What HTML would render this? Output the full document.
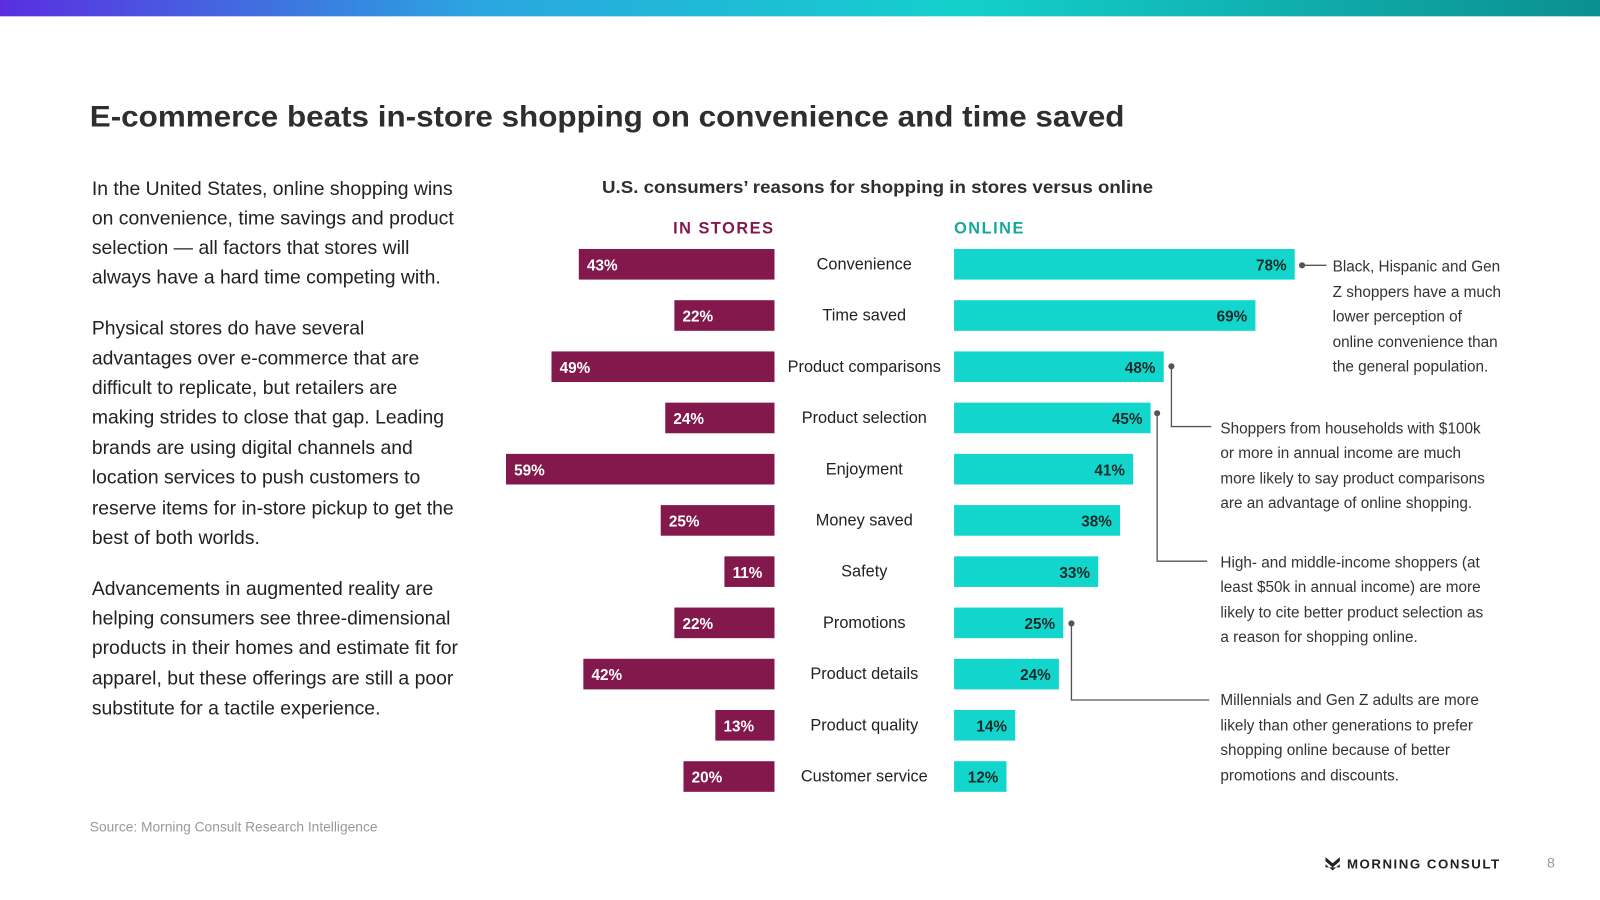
<!DOCTYPE html>
<html><head><meta charset="utf-8"><style>
html,body{margin:0;padding:0;background:#fff;}
svg{display:block;font-family:"Liberation Sans",sans-serif;}
</style></head><body>
<svg id="chart" width="1600" height="900" viewBox="0 0 1568 882" xmlns="http://www.w3.org/2000/svg">
<defs><linearGradient id="tg" x1="0" x2="1" y1="0" y2="0"><stop offset="0" stop-color="#5a2ee0"/><stop offset="0.3" stop-color="#2aa6e0"/><stop offset="0.6" stop-color="#14d0cc"/><stop offset="1" stop-color="#0b8f90"/></linearGradient></defs>
<rect x="0" y="0" width="1568" height="16" fill="url(#tg)"/>
<text x="88" y="124" font-size="29" font-weight="bold" fill="#2e2e2e" textLength="1014" lengthAdjust="spacingAndGlyphs">E-commerce beats in-store shopping on convenience and time saved</text>
<g font-size="19" fill="#222">
<text x="90" y="191">In the United States, online shopping wins</text>
<text x="90" y="220">on convenience, time savings and product</text>
<text x="90" y="249">selection — all factors that stores will</text>
<text x="90" y="278">always have a hard time competing with.</text>
<text x="90" y="328">Physical stores do have several</text>
<text x="90" y="357">advantages over e-commerce that are</text>
<text x="90" y="386">difficult to replicate, but retailers are</text>
<text x="90" y="415">making strides to close that gap. Leading</text>
<text x="90" y="445">brands are using digital channels and</text>
<text x="90" y="474">location services to push customers to</text>
<text x="90" y="504">reserve items for in-store pickup to get the</text>
<text x="90" y="533">best of both worlds.</text>
<text x="90" y="583">Advancements in augmented reality are</text>
<text x="90" y="612">helping consumers see three-dimensional</text>
<text x="90" y="641">products in their homes and estimate fit for</text>
<text x="90" y="671">apparel, but these offerings are still a poor</text>
<text x="90" y="700">substitute for a tactile experience.</text>
</g>
<text x="590" y="189" font-size="17.5" font-weight="bold" fill="#2e2e2e" textLength="540" lengthAdjust="spacingAndGlyphs">U.S. consumers’ reasons for shopping in stores versus online</text>
<text x="759" y="229" text-anchor="end" font-size="16" font-weight="bold" fill="#83184c" letter-spacing="1.5">IN STORES</text>
<text x="935" y="229" font-size="16" font-weight="bold" fill="#14a89f" letter-spacing="1.5">ONLINE</text>
<g id="bars"></g>
<g font-size="15" fill="#333" stroke="none">
<text x="1306" y="266">Black, Hispanic and Gen</text>
<text x="1306" y="291">Z shoppers have a much</text>
<text x="1306" y="315">lower perception of</text>
<text x="1306" y="340">online convenience than</text>
<text x="1306" y="364">the general population.</text>
<text x="1196" y="425">Shoppers from households with $100k</text>
<text x="1196" y="449">or more in annual income are much</text>
<text x="1196" y="474">more likely to say product comparisons</text>
<text x="1196" y="498">are an advantage of online shopping.</text>
<text x="1196" y="556">High- and middle-income shoppers (at</text>
<text x="1196" y="580">least $50k in annual income) are more</text>
<text x="1196" y="605">likely to cite better product selection as</text>
<text x="1196" y="629">a reason for shopping online.</text>
<text x="1196" y="691">Millennials and Gen Z adults are more</text>
<text x="1196" y="716">likely than other generations to prefer</text>
<text x="1196" y="740">shopping online because of better</text>
<text x="1196" y="765">promotions and discounts.</text>
</g>
<g stroke="#555" stroke-width="1.3" fill="none">
<path d="M1276 260 H1300"/><path d="M1148 359 V418 H1187"/><path d="M1134 405 V550 H1183"/><path d="M1050 611 V686 H1185"/>
</g>
<g fill="#555">
<circle cx="1276" cy="260" r="3"/><circle cx="1148" cy="359" r="3"/><circle cx="1134" cy="405" r="3"/><circle cx="1050" cy="611" r="3"/>
</g>
<text x="88" y="815" font-size="13.5" fill="#999">Source: Morning Consult Research Intelligence</text>
<g>
<path d="M1299 840 l7 6 l7 -6 v4 l-7 6 l-7 -6z M1299 847 l7 6 l7 -6 v3 h-14z" fill="#222"/>
<text x="1320" y="851" font-size="13" font-weight="bold" fill="#222" letter-spacing="1.5">MORNING CONSULT</text>
</g>
<text x="1516" y="850" font-size="14" fill="#999">8</text>
</svg>
<script>
const categories = ["Convenience","Time saved","Product comparisons","Product selection","Enjoyment","Money saved","Safety","Promotions","Product details","Product quality","Customer service"];
const inStores = [43,22,49,24,59,25,11,22,42,13,20];
const online = [78,69,48,45,41,38,33,25,24,14,12];
const NS = "http://www.w3.org/2000/svg";
const g = document.getElementById('bars');
const storeX = v => 759 - v * 4.46;
const onlineW = v => v * 4.28;
const rowY = i => 259 + i * 50.2;
const BH = 30;
function mk(tag, attrs, text){const e=document.createElementNS(NS,tag);for(const k in attrs)e.setAttribute(k,attrs[k]);if(text!==undefined)e.textContent=text;g.appendChild(e);return e;}
categories.forEach((c,i)=>{
  const y = rowY(i);
  const sx = storeX(inStores[i]);
  const r1 = mk('rect',{x:sx,y:y-BH/2,width:759-sx,height:BH,fill:'#83184c'});
  
  
  const t1 = mk('text',{x:sx+8,y:y+6,'font-size':15,'font-weight':'bold',fill:'#fff'},inStores[i]+'%');
  
  
  const w = onlineW(online[i]);
  const r2 = mk('rect',{x:935,y:y-BH/2,width:w,height:BH,fill:'#12d6cc'});
  
  
  const t2 = mk('text',{x:935+w-8,y:y+6,'text-anchor':'end','font-size':15,'font-weight':'bold',fill:'#1a2a2a'},online[i]+'%');
  
  
  const lb = mk('text',{x:847,y:y+5,'text-anchor':'middle','font-size':16,fill:'#222'},c);
  
  
});
</script>
</body></html>
